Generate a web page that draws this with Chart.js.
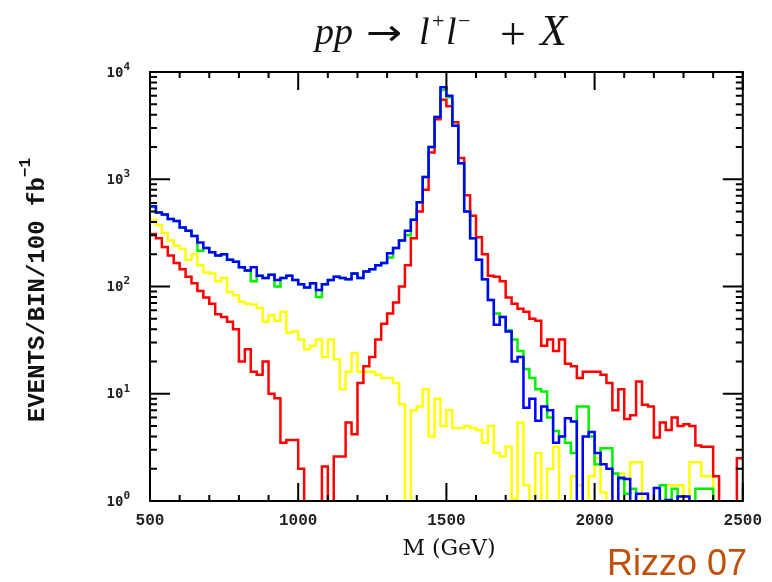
<!DOCTYPE html>
<html>
<head>
<meta charset="utf-8">
<script src="https://cdn.jsdelivr.net/npm/chart.js@4.4.1/dist/chart.umd.min.js"></script>
<style>
  html, body { margin: 0; padding: 0; background: #fff; }
  #wrap { width: 772px; height: 582px; }
</style>
</head>
<body>
<div id="wrap"><canvas id="chart" width="772" height="582"></canvas></div>
<script>
// histogram bins: 20 GeV wide, from 500 to 2500 GeV
const binStart = 500;
const binWidth = 20;

// events per bin (0.2 = empty bin, below the axis)
const blueEvents = [
  560, 490, 468, 427, 407, 355, 331, 295, 257, 229,
  209, 195, 200, 178, 170, 151, 141, 151, 126, 120,
  129, 115, 120, 126, 115, 105, 98, 107, 93, 105,
  115, 123, 120, 117, 132, 120, 138, 145, 158, 166,
  204, 229, 269, 331, 420, 610, 1050, 2000, 3800, 7200,
  6000, 3160, 1410, 500, 282, 178, 117, 75, 44, 52,
  38, 20, 22, 7.4, 9, 5.6, 7.6, 7, 3.5, 4,
  5.9, 5.5, 0.2, 4, 4.4, 2.8, 2.2, 2, 0.2, 1.65,
  1.6, 0.2, 1.17, 1.17, 0.2, 1.32, 1.0, 1.02, 0.2, 1.1,
  1.1, 0.2, 0.2, 0.2, 0.2, 0.2, 0.2, 0.2, 0.2, 0.2
];
const greenEvents = [
  550, 490, 468, 427, 407, 355, 331, 295, 215, 229,
  209, 195, 200, 178, 170, 151, 141, 112, 126, 120,
  129, 100, 120, 126, 115, 105, 98, 107, 80, 105,
  115, 123, 120, 117, 132, 120, 138, 145, 158, 166,
  186, 229, 269, 300, 420, 610, 1050, 2000, 3800, 6800,
  5800, 3160, 1410, 500, 282, 178, 117, 75, 56, 52,
  39, 32, 25, 17, 14, 11, 10.5, 6, 4.5, 4,
  3.5, 2.8, 7.6, 7.6, 4, 2.2, 3.1, 3.1, 1.8, 1.6,
  1.17, 1.3, 0.9, 0.9, 0.9, 0.9, 1.4, 1.0, 1.3, 0.9,
  0.9, 0.9, 1.3, 1.3, 1.3, 0.2, 0.2, 0.2, 0.2, 0.2
];
const redEvents = [
  309, 282, 234, 195, 166, 145, 123, 107, 91, 79,
  69, 55, 52, 47, 40, 20, 26, 16, 15, 20,
  10, 9.1, 3.5, 3.7, 3.7, 2, 0.2, 0.2, 0.2, 2.1,
  0.2, 2.6, 2.6, 5.4, 4.2, 12.6, 18, 22, 32, 45,
  56, 71, 100, 158, 282, 500, 800, 1780, 3630, 5500,
  4800, 3400, 1580, 710, 457, 288, 200, 126, 123, 112,
  79, 69, 62, 58, 50, 48, 28, 32, 25, 32,
  19, 18, 14, 16, 16, 16, 15, 12.6, 7, 11,
  5.8, 6.3, 13, 7.9, 7.6, 3.9, 5.4, 4.6, 6, 5,
  5.2, 5, 3.3, 3.2, 3.2, 1.7, 0.2, 0.2, 0.2, 2.5
];
const yellowEvents = [
  417, 372, 316, 269, 240, 224, 178, 200, 158, 135,
  132, 112, 120, 89, 83, 72, 69, 68, 63, 47,
  54, 48, 58, 37, 38, 32, 26, 28, 32, 22,
  32, 21, 11, 16, 24, 16, 16, 16, 15, 14,
  14, 12.6, 8, 0.2, 7, 7.6, 11, 4, 9, 5,
  7, 4.8, 4.8, 5, 4.8, 4.6, 3.5, 5, 2.8, 2.6,
  3.2, 1.05, 5.4, 1.4, 0.2, 2.8, 0.2, 2, 3.2, 0.2,
  0.2, 1.7, 1.4, 0.2, 1.7, 2.5, 1.2, 0.2, 1.8, 1.8,
  0.2, 2.3, 2.3, 0.2, 0.2, 1.0, 0.2, 1.4, 1.4, 1.4,
  0.9, 2.3, 2.3, 1.7, 1.7, 0.2, 0.2, 0.2, 0.2, 0.2
];

const xTickValues = [500, 1000, 1500, 2000, 2500];
const xTickLabels = ['500', '1000', '1500', '2000', '2500'];
const yTickValues = [1, 10, 100, 1000, 10000];
const yTickExponents = ['0', '1', '2', '3', '4'];

// turn a list of bin contents into step points (left edge of every bin + closing edge)
function toSteps(values) {
  const pts = values.map((v, i) => ({ x: binStart + i * binWidth, y: v }));
  pts.push({ x: binStart + values.length * binWidth, y: values[values.length - 1] });
  return pts;
}

function histo(label, values, color) {
  return {
    label: label,
    data: toSteps(values),
    borderColor: color,
    borderWidth: 2.5,
    stepped: true,
    pointRadius: 0,
    fill: false
  };
}

// frame, inner tick marks and all the free text
const decorPlugin = {
  id: 'decor',
  afterDraw(chart) {
    const c = chart.ctx;
    const a = chart.chartArea;
    const xs = chart.scales.x;
    const ys = chart.scales.y;
    c.save();
    c.strokeStyle = '#000';
    c.lineWidth = 2;
    c.beginPath();
    // x ticks every 100 GeV, long ones every 500
    for (let m = 500; m <= 2500; m += 100) {
      const px = xs.getPixelForValue(m);
      const len = (m % 500 === 0) ? 18 : 6;
      c.moveTo(px, a.bottom); c.lineTo(px, a.bottom - len);
      c.moveTo(px, a.top); c.lineTo(px, a.top + len);
    }
    // y ticks: decades long, 2..9 short
    for (let d = 1; d < 10000; d *= 10) {
      for (let k = 1; k < 10; k++) {
        const py = ys.getPixelForValue(d * k);
        const len = (k === 1) ? 20 : 7;
        c.moveTo(a.left, py); c.lineTo(a.left + len, py);
        c.moveTo(a.right, py); c.lineTo(a.right - len, py);
      }
    }
    c.stroke();
    c.strokeRect(a.left, a.top, a.right - a.left, a.bottom - a.top);

    // y tick labels 10^n
    c.fillStyle = '#222';
    c.textBaseline = 'middle';
    c.textAlign = 'right';
    yTickValues.forEach((v, i) => {
      const py = ys.getPixelForValue(v);
      c.font = 'bold 11px "DejaVu Sans Mono"';
      c.fillText(yTickExponents[i], 130, py - 5);
      const ew = c.measureText(yTickExponents[i]).width;
      c.font = 'bold 14px "DejaVu Sans Mono"';
      c.fillText('10', 130 - ew, py + 1);
    });

    // title  pp -> l+ l- + X
    c.fillStyle = '#111';
    c.textBaseline = 'alphabetic';
    c.textAlign = 'left';
    c.font = 'italic 38px "Liberation Serif"';
    c.fillText('pp', 315, 44);
    c.fillText('l', 419, 44);
    c.fillText('l', 446, 44);
    c.font = 'italic 44px "Liberation Serif"';
    c.fillText('X', 540, 45);
    c.font = '36px "DejaVu Sans"';
    c.save();
    c.translate(366, 45);
    c.scale(1.2, 1);
    c.fillText('\u2192', 0, 0);
    c.restore();
    c.font = '46px "Liberation Serif"';
    c.fillText('+', 500, 49);
    c.font = '22px "Liberation Serif"';
    c.fillText('+', 432, 28);
    c.fillText('\u2212', 458, 28);

    // y axis title
    c.save();
    c.translate(38, 290);
    c.rotate(-Math.PI / 2);
    c.font = 'bold 24px "Liberation Mono"';
    const main = 'EVENTS/BIN/100 fb';
    const w1 = c.measureText(main).width;
    c.font = 'bold 16px "Liberation Mono"';
    const w2 = c.measureText('\u22121').width;
    c.textBaseline = 'middle';
    c.textAlign = 'left';
    c.font = 'bold 24px "Liberation Mono"';
    c.fillText(main, -(w1 + w2) / 2, 0);
    c.font = 'bold 16px "Liberation Mono"';
    c.fillText('\u22121', -(w1 + w2) / 2 + w1, -12);
    c.restore();

    // x axis title
    c.textAlign = 'center';
    c.textBaseline = 'alphabetic';
    c.font = '22px "DejaVu Serif"';
    c.fillText('M (GeV)', 449, 555);

    // credit
    c.textAlign = 'left';
    c.fillStyle = '#c0500c';
    c.font = '36px "Liberation Sans"';
    c.fillText('Rizzo 07', 607, 575);
    c.restore();
  }
};

const ctx = document.getElementById('chart').getContext('2d');
new Chart(ctx, {
  type: 'line',
  data: {
    datasets: [
      histo('blue', blueEvents, '#0000ff'),
      histo('green', greenEvents, '#00ee00'),
      histo('red', redEvents, '#ff0000'),
      histo('yellow', yellowEvents, '#ffff00')
    ]
  },
  options: {
    responsive: false,
    animation: false,
    devicePixelRatio: 1,
    layout: { padding: { top: 72, right: 21, left: 0, bottom: 0 } },
    plugins: { legend: { display: false }, tooltip: { enabled: false } },
    scales: {
      x: {
        type: 'linear',
        min: 500,
        max: 2500,
        grid: { display: false, drawTicks: false },
        border: { display: false },
        afterBuildTicks: (s) => { s.ticks = xTickValues.map(v => ({ value: v })); },
        afterFit: (s) => { s.height = 81; },
        ticks: {
          padding: 10,
          maxRotation: 0,
          color: '#222',
          font: { family: 'Liberation Mono', size: 16, weight: 'bold' },
          callback: (v) => {
            const i = xTickValues.indexOf(v);
            return i >= 0 ? xTickLabels[i] : '';
          }
        }
      },
      y: {
        type: 'logarithmic',
        min: 1,
        max: 10000,
        grid: { display: false, drawTicks: false },
        border: { display: false },
        afterFit: (s) => { s.width = 150; },
        ticks: { display: false }
      }
    }
  },
  plugins: [decorPlugin]
});
</script>
</body>
</html>
